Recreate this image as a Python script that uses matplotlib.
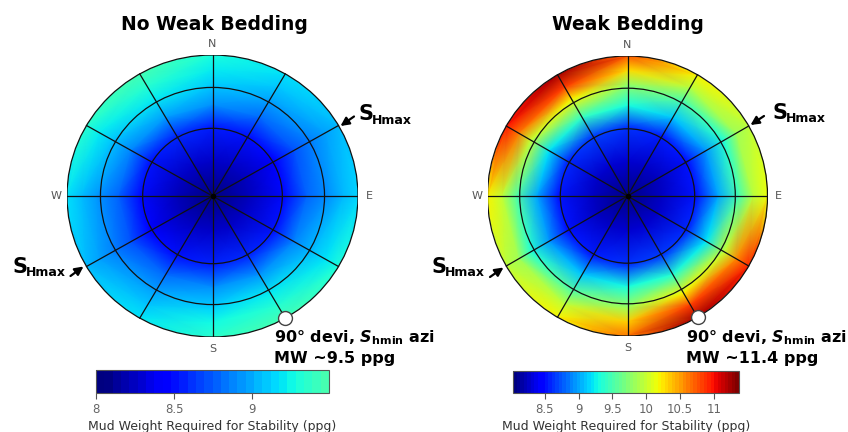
import numpy as np
import matplotlib
matplotlib.use("Agg")
import matplotlib.pyplot as plt
from matplotlib.colors import Normalize, ListedColormap
from matplotlib.patches import Circle
from matplotlib.cm import ScalarMappable

W, H = 848, 432

# wellbore azimuth (deg from N) and deviation position (0 = vertical, 1 = 90 deg)
azimuth = [0, 30, 60, 90, 120, 150, 180, 210, 240, 270, 300, 330]
radius = [0.0, 0.25, 0.5, 0.65, 0.8, 0.9, 1.0]

# mud weight required (ppg), one row per radius, one column per azimuth
mw_no_weak = [
    [8.00, 8.00, 8.00, 8.00, 8.00, 8.00, 8.00, 8.00, 8.00, 8.00, 8.00, 8.00],
    [8.25, 8.23, 8.20, 8.21, 8.23, 8.25, 8.25, 8.23, 8.20, 8.21, 8.23, 8.25],
    [8.55, 8.50, 8.45, 8.48, 8.52, 8.58, 8.57, 8.50, 8.45, 8.48, 8.52, 8.58],
    [8.92, 8.80, 8.72, 8.78, 8.88, 8.95, 8.93, 8.80, 8.72, 8.78, 8.88, 8.97],
    [9.12, 9.00, 8.88, 8.92, 9.08, 9.22, 9.15, 9.00, 8.88, 8.95, 9.10, 9.22],
    [9.22, 9.10, 8.97, 9.05, 9.20, 9.35, 9.27, 9.10, 8.97, 9.07, 9.22, 9.35],
    [9.30, 9.18, 9.05, 9.15, 9.32, 9.47, 9.37, 9.20, 9.05, 9.18, 9.35, 9.47],
]
mw_weak = [
    [8.05, 8.05, 8.05, 8.05, 8.05, 8.05, 8.05, 8.05, 8.05, 8.05, 8.05, 8.05],
    [8.27, 8.25, 8.22, 8.23, 8.25, 8.27, 8.27, 8.25, 8.22, 8.23, 8.25, 8.27],
    [8.62, 8.55, 8.50, 8.52, 8.58, 8.65, 8.62, 8.55, 8.50, 8.52, 8.58, 8.66],
    [9.30, 9.10, 8.95, 9.00, 9.20, 9.35, 9.30, 9.10, 8.95, 9.00, 9.20, 9.40],
    [9.80, 9.55, 9.35, 9.50, 10.00, 10.20, 9.85, 9.60, 9.35, 9.55, 10.00, 10.20],
    [10.30, 9.95, 9.85, 9.95, 10.60, 10.85, 10.35, 10.00, 9.85, 10.00, 10.65, 10.85],
    [10.75, 10.20, 9.95, 10.15, 10.95, 11.25, 10.65, 10.20, 9.95, 10.20, 11.00, 11.25],
]

rings = [0.48, 0.77, 1.0]
spokes = list(range(0, 360, 30))
shmin_azi = 150

cb_left_ticks = [8, 8.5, 9]
cb_right_ticks = [8.5, 9, 9.5, 10, 10.5, 11]

norm = Normalize(8.03, 11.37)
jet = plt.get_cmap("jet")


def fig_box(x0, y0, x1, y1):
    return [x0 / W, 1 - y1 / H, (x1 - x0) / W, (y1 - y0) / H]


def draw_stereo(ax, values):
    az = np.radians(azimuth + [360])
    r = np.array(radius + [1.04])  # a bit past the rim so the clip circle is covered
    v = np.array(values)
    v = np.hstack([v, v[:, :1]])
    v = np.vstack([v, v[-1:]])
    R, A = np.meshgrid(r, az, indexing="ij")
    X, Y = R * np.sin(A), R * np.cos(A)
    mesh = ax.pcolormesh(X, Y, v, shading="gouraud", cmap=jet, norm=norm)
    mesh.set_clip_path(Circle((0, 0), 1, transform=ax.transData))

    for rr in rings:
        ax.add_patch(Circle((0, 0), rr, fill=False, ec="#111111", lw=0.9))
    for a in spokes:
        t = np.radians(a)
        ax.plot([0, np.sin(t)], [0, np.cos(t)], color="#111111", lw=0.9)
    ax.plot(0, 0, "o", color="k", ms=3)

    t = np.radians(shmin_azi)
    ax.plot(np.sin(t), np.cos(t), "o", ms=10, mfc="white", mec="#444444",
            mew=1, clip_on=False, zorder=5)

    lab = dict(fontsize=8, color="#555555", ha="center", va="center")
    ax.text(0, 1.075, "N", **lab)
    ax.text(0, -1.085, "S", **lab)
    ax.text(1.075, 0, "E", **lab)
    ax.text(-1.075, 0, "W", **lab)

    ax.set_xlim(-1, 1)
    ax.set_ylim(-1, 1)
    ax.axis("off")


def arrow(fig, tail, tip):
    fig.axes[0].annotate("", xy=(tip[0], H - tip[1]), xytext=(tail[0], H - tail[1]),
                         xycoords="figure pixels", textcoords="figure pixels",
                         arrowprops=dict(arrowstyle="-|>,head_length=0.5,head_width=0.25",
                                         color="k", lw=1.6, shrinkA=0, shrinkB=0))


def ftext(fig, x, y, s, **kw):
    fig.text(x / W, 1 - y / H, s, **kw)


def shmax_label(fig, x, y):
    ftext(fig, x, y, "S", fontsize=15, fontweight="bold", ha="left", va="center")
    ftext(fig, x + 14, y + 6, "Hmax", fontsize=9, fontweight="bold", ha="left", va="center")


fig = plt.figure(figsize=(W / 100, H / 100), dpi=100)

ax1 = fig.add_axes(fig_box(67, 55, 358, 337))
draw_stereo(ax1, mw_no_weak)
ax2 = fig.add_axes(fig_box(487.5, 56, 767.5, 336))
draw_stereo(ax2, mw_weak)

ftext(fig, 214, 24, "No Weak Bedding", fontsize=13.5, fontweight="bold", ha="center", va="center")
ftext(fig, 628, 24, "Weak Bedding", fontsize=13.5, fontweight="bold", ha="center", va="center")

shmax_label(fig, 358, 114)
shmax_label(fig, 12, 267)
shmax_label(fig, 772, 113)
shmax_label(fig, 431, 267)
arrow(fig, (354, 116.5), (340.5, 126))
arrow(fig, (70.5, 276), (83.5, 266.5))
arrow(fig, (764, 116), (750.5, 125))
arrow(fig, (490, 277), (503.5, 267.5))

note = dict(fontsize=11.5, fontweight="bold", ha="left", va="center")
shmin = r"90° devi, $\mathbfit{S}_{\mathbf{hmin}}$ azi"
ftext(fig, 274, 338, shmin, **note)
ftext(fig, 274, 359, "MW ~9.5 ppg", **note)
ftext(fig, 686, 338, shmin, **note)
ftext(fig, 686, 359, "MW ~11.4 ppg", **note)

# colorbars
lo, hi = 8.0, 9.49
left_cmap = ListedColormap(jet(np.linspace(norm(lo), norm(hi), 28)))
cax1 = fig.add_axes(fig_box(96, 370, 329, 393))
cb1 = fig.colorbar(ScalarMappable(Normalize(lo, hi), left_cmap), cax=cax1,
                   orientation="horizontal", ticks=cb_left_ticks)
cb1.ax.set_xticklabels(["8", "8.5", "9"])

cax2 = fig.add_axes(fig_box(513, 371, 739, 393))
right_cmap = ListedColormap(jet(np.linspace(0, 1, 64)))
cb2 = fig.colorbar(ScalarMappable(norm, right_cmap), cax=cax2,
                   orientation="horizontal", ticks=cb_right_ticks)
cb2.ax.set_xticklabels(["8.5", "9", "9.5", "10", "10.5", "11"])

for cb in (cb1, cb2):
    cb.outline.set_edgecolor("#555555")
    cb.outline.set_linewidth(0.8)
    cb.ax.tick_params(length=4, width=0.8, color="#555555", labelsize=8.5,
                      labelcolor="#666666", pad=3)
    cb.set_label("Mud Weight Required for Stability (ppg)", fontsize=9,
                 color="#333333", labelpad=3)

fig.savefig("out.png", dpi=100)
